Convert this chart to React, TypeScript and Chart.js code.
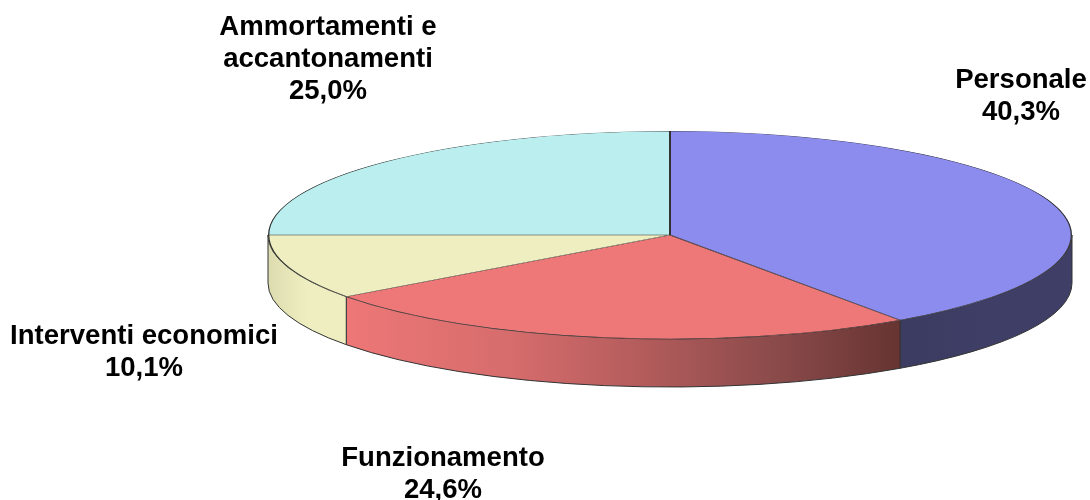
import React, { useEffect, useRef } from "react";
import { Chart, registerables } from "chart.js";

Chart.register(...registerables);

const categories = ["Personale", "Funzionamento", "Interventi economici", "Ammortamenti e accantonamenti"];
const shares = [40.3, 24.6, 10.1, 25.0];
const percentLabels = ["40,3%", "24,6%", "10,1%", "25,0%"];
const labelLines = [["Personale"], ["Funzionamento"], ["Interventi economici"], ["Ammortamenti e", "accantonamenti"]];
const topColors = ["#8C8CEE", "#EE7777", "#EEEEC0", "#BBEEEE"];
const wallStops: [number, string][][] = [
  [[0, "#3C3C62"], [0.5, "#3E3E66"], [1, "#3E3E66"]],
  [[0, "#EE7777"], [0.3, "#D66C6C"], [0.53, "#B45C5C"], [0.78, "#8A4A4A"], [1, "#663432"]],
  [[0, "#DCDCB0"], [0.5, "#EEEEC0"], [1, "#EEEEC0"]],
  [[0, "#BBEEEE"], [1, "#BBEEEE"]],
];
const labelCentres = [
  [1021, 81],
  [443, 459],
  [144, 337],
  [328, 16],
];

const SQUASH = 104 / 402;
const DEPTH = 48;
const TEXT_STRETCH = 1.02;

const pie3d = {
  id: "pie3d",
  beforeDatasetsDraw(chart: any) {
    const ctx = chart.ctx;
    const arcs = chart.getDatasetMeta(0).data;
    const { x: cx, y: cy, outerRadius: r } = arcs[0];
    const ry = r * SQUASH;
    arcs.forEach((a: any, i: number) => {
      const s = Math.max(a.startAngle, 0);
      const e = Math.min(a.endAngle, Math.PI);
      if (e <= s) return;
      const x0 = cx + r * Math.cos(s);
      const x1 = cx + r * Math.cos(e);
      const g = ctx.createLinearGradient(Math.min(x0, x1), 0, Math.max(x0, x1), 0);
      wallStops[i].forEach(([p, c]) => g.addColorStop(p, c));
      ctx.save();
      ctx.beginPath();
      ctx.ellipse(cx, cy, r, ry, 0, s, e);
      ctx.ellipse(cx, cy + DEPTH, r, ry, 0, e, s, true);
      ctx.closePath();
      ctx.fillStyle = g;
      ctx.fill();
      ctx.lineWidth = 1;
      ctx.strokeStyle = "#333333";
      ctx.stroke();
      ctx.restore();
    });
    ctx.save();
    ctx.translate(cx, cy);
    ctx.scale(1, SQUASH);
    ctx.translate(-cx, -cy);
  },
  afterDatasetsDraw(chart: any) {
    const ctx = chart.ctx;
    ctx.restore();
    ctx.save();
    ctx.fillStyle = "#000000";
    ctx.font = "bold 27px 'Liberation Sans'";
    ctx.textAlign = "center";
    ctx.textBaseline = "middle";
    categories.forEach((_, i) => {
      const [x, y] = labelCentres[i];
      const lines = [...labelLines[i], percentLabels[i]];
      lines.forEach((t, k) => {
        ctx.save();
        ctx.translate(x, y + k * 32 + (lines.length === 3 ? 12 : 0));
        ctx.scale(TEXT_STRETCH, 1);
        ctx.fillText(t, 0, 0);
        ctx.restore();
      });
    });
    ctx.restore();
  },
};

export default function App() {
  const ref = useRef<HTMLCanvasElement>(null);
  useEffect(() => {
    document.body.style.margin = "0";
    const chart = new Chart(ref.current!, {
      type: "pie",
      data: {
        labels: categories,
        datasets: [
          {
            data: shares,
            backgroundColor: topColors,
            borderColor: "#333333",
            borderWidth: 1,
            borderAlign: "inner",
          } as any,
        ],
      },
      options: {
        responsive: false,
        animation: false,
        radius: 402,
        layout: { padding: { left: 250, right: 0, top: 0, bottom: 30 } },
        plugins: { legend: { display: false }, tooltip: { enabled: false } },
      } as any,
      plugins: [pie3d],
    });
    return () => chart.destroy();
  }, []);
  return <canvas ref={ref} width={1090} height={500} style={{ display: "block" }} />;
}
